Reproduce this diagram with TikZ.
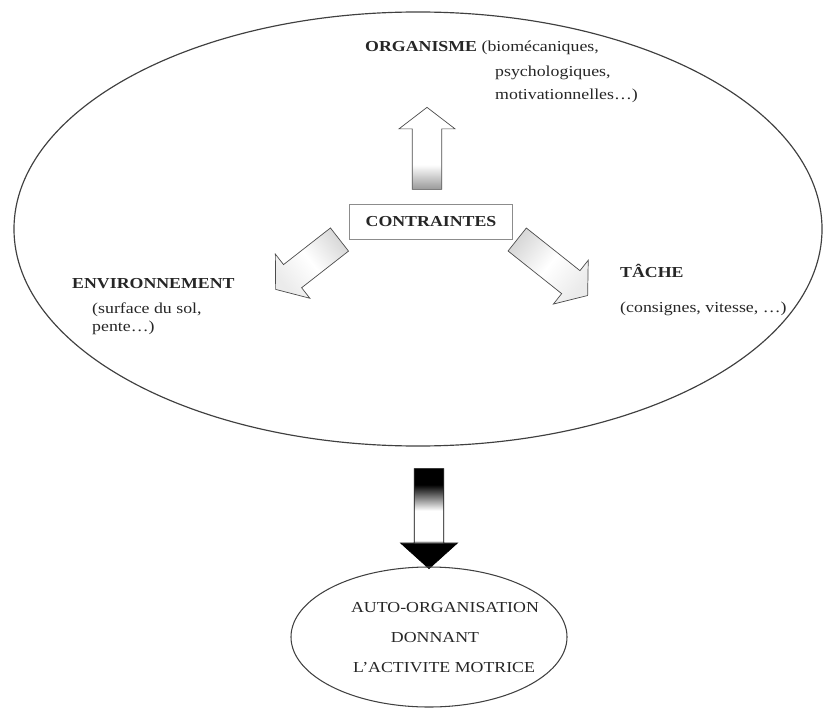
\documentclass[tikz,border=0pt]{standalone}
\usepackage{fontspec}
\setmainfont{Liberation Serif}[FakeStretch=1.17]
\usetikzlibrary{shapes.geometric,shapes.arrows}

\pgfdeclarehorizontalshading{flechenoire}{100bp}{color(0bp)=(black); color(25bp)=(black); color(33bp)=(black); color(46bp)=(white); color(61bp)=(white); color(62.5bp)=(black); color(100bp)=(black)}
\pgfdeclarehorizontalshading{flechegrise}{100bp}{color(0bp)=(black!40); color(25bp)=(black!40); color(40bp)=(white); color(100bp)=(white)}
\pgfdeclarehorizontalshading{flecheclaire}{100bp}{color(0bp)=(black!15); color(25bp)=(black!15); color(50bp)=(white); color(75bp)=(black!8); color(100bp)=(black!8)}

\tikzset{
  texte/.style={inner sep=0pt, text=black!85, font=\fontsize{13}{15}\selectfont},
  titre/.style={texte, font=\fontsize{13}{15}\selectfont\bfseries},
  bloc/.style={single arrow, draw=black!70, line width=0.6pt, inner xsep=0pt,
    inner ysep=0.43cm, minimum width=0pt, single arrow head extend=0.4cm,
    single arrow tip angle=105, rotate=#1, shading angle=#1},
  contour/.style={ellipse, draw=black!75, line width=1pt},
}

\begin{document}
\begin{tikzpicture}[x=0.03cm, y=-0.03cm]
\useasboundingbox (0,0) rectangle (823,711);
% grande ellipse
\node[contour, minimum width=24.24cm, minimum height=13.02cm] (systeme) at (418,229) {};
% fleches des contraintes
\node[bloc=90, shading=flechegrise, minimum height=2.46cm] (versorganisme) at (427,154) {};
\node[bloc=218, shading=flecheclaire, minimum height=2.43cm] (versenvironnement) at (312,261) {};
\node[bloc=-38.5, shading=flecheclaire, minimum height=2.7cm] (verstache) at (548,264) {};
\node[titre, draw=black!45, fill=white, minimum width=4.89cm, minimum height=1.05cm] (contraintes) at (431,222) {CONTRAINTES};
% organisme
\node[texte, anchor=base west] (organisme) at (365,52) {\textbf{ORGANISME} (biomécaniques,};
\node[texte, anchor=base west] (organismeb) at (495,77) {psychologiques,};
\node[texte, anchor=base west] (organismec) at (495,100) {motivationnelles\dots)};
% environnement
\node[titre, anchor=base west] (environnement) at (72,288) {ENVIRONNEMENT};
\node[texte, anchor=base west] (sol) at (92,313) {(surface du sol,};
\node[texte, anchor=base west] (pente) at (92,331) {pente\dots)};
% tache
\node[titre, anchor=base west] (tache) at (620,277) {TÂCHE};
\node[texte, anchor=base west] (consignes) at (620,312) {(consignes, vitesse, \dots)};
% vers l'auto-organisation
\node[bloc=-90, draw=black, shading=flechenoire, minimum height=3cm,
  single arrow head extend=0.41cm, single arrow tip angle=96] (versauto) at (429,512) {};
\node[contour, line width=0.9pt, minimum width=8.28cm, minimum height=4.2cm] (auto) at (429,637) {};
\node[texte, anchor=base] (autoa) at (445,612) {AUTO-ORGANISATION};
\node[texte, anchor=base] (autob) at (435,642) {DONNANT};
\node[texte, anchor=base] (autoc) at (444,672) {L'ACTIVITE MOTRICE};
\end{tikzpicture}
\end{document}
